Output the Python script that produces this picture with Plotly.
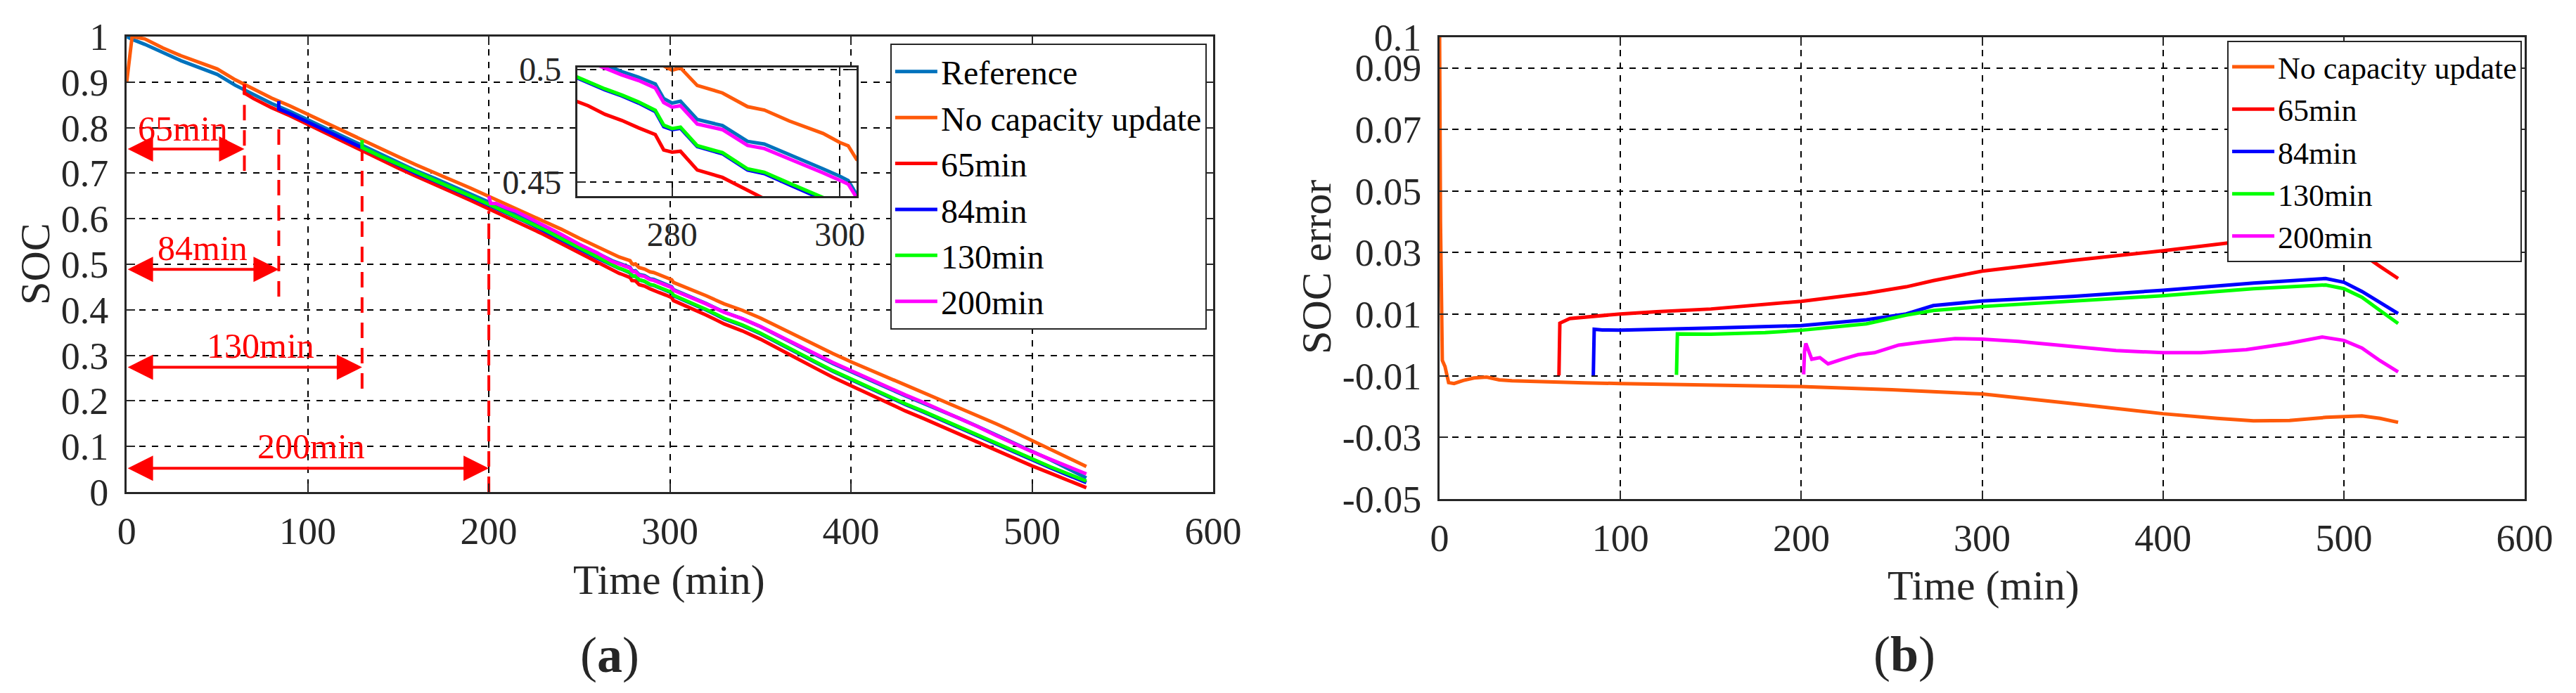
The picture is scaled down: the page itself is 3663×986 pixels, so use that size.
import plotly.graph_objects as go

FONT = "Liberation Serif"

# ---------------- panel (a): SOC vs time ----------------
T_SOC = [0, 3, 10, 20, 30, 40, 50, 60, 70, 80, 90, 100, 110, 120, 130, 140, 150, 160,
         170, 180, 190, 200, 210, 220, 230, 240, 250, 260,
         268, 270, 272, 274, 276, 278, 279, 280, 281, 283, 286, 289, 291, 294, 298, 300, 301, 302,
         310, 320, 330, 340, 350, 360, 370, 380, 390, 400, 410, 420, 430, 440, 450, 460, 470,
         480, 490, 500, 510, 520, 530]
SOC_REF = [1.0, 0.994, 0.983, 0.964, 0.947, 0.932, 0.917, 0.893, 0.872, 0.853, 0.836, 0.817,
           0.799, 0.779, 0.760, 0.741, 0.723, 0.705, 0.689, 0.671, 0.654, 0.636, 0.619, 0.602,
           0.583, 0.563, 0.543, 0.524,
           0.508, 0.505, 0.502, 0.499, 0.4965, 0.4935, 0.487, 0.485, 0.4858, 0.4777, 0.475,
           0.468, 0.4668, 0.4622, 0.4558, 0.4525, 0.4506, 0.4444,
           0.4315, 0.414, 0.395, 0.3805, 0.363, 0.342, 0.3226, 0.302, 0.282, 0.2637, 0.246,
           0.229, 0.211, 0.195, 0.178, 0.1615, 0.144, 0.126, 0.1086, 0.090, 0.071, 0.051, 0.031]
SOC_NO_UPDATE = [0.9, 1.0, 0.995, 0.975, 0.958, 0.944, 0.929, 0.905, 0.884, 0.865, 0.848, 0.829,
                 0.811, 0.792, 0.773, 0.754, 0.736, 0.718, 0.702, 0.684, 0.667, 0.649, 0.632,
                 0.615, 0.597, 0.577, 0.557, 0.538,
                 0.522, 0.519, 0.516, 0.5135, 0.511, 0.508, 0.5015, 0.4996, 0.5006, 0.4928,
                 0.4895, 0.4834, 0.4819, 0.477, 0.4715, 0.4675, 0.466, 0.460,
                 0.448, 0.431, 0.413, 0.399, 0.382, 0.362, 0.343, 0.323, 0.304, 0.286, 0.269,
                 0.252, 0.235, 0.219, 0.203, 0.186, 0.168, 0.150, 0.132, 0.113, 0.094, 0.075, 0.056]

T_65 = [65, 65, 70, 80, 90, 100, 110, 120, 130, 140, 150, 160, 170, 180, 190, 200, 210, 220,
        230, 240, 250, 260,
        268, 270, 272, 274, 276, 278, 279, 280, 281, 283, 286, 289, 291, 294, 298, 300, 301, 302,
        310, 320, 330, 340, 350, 360, 370, 380, 390, 400, 410, 420, 430, 440, 450, 460, 470,
        480, 490, 500, 510, 520, 530]
SOC_65 = [0.895, 0.876, 0.864, 0.844, 0.8264, 0.807, 0.7885, 0.768, 0.749, 0.7296, 0.711, 0.693,
          0.6765, 0.658, 0.640, 0.622, 0.604, 0.586, 0.566, 0.5455, 0.525, 0.505,
          0.4866, 0.4838, 0.480, 0.4773, 0.474, 0.471, 0.4642, 0.4632, 0.4636, 0.4553, 0.452,
          0.4462, 0.4425, 0.438, 0.432, 0.4285, 0.4266, 0.4203,
          0.4068, 0.3886, 0.369, 0.3537, 0.3355, 0.314, 0.294, 0.2726, 0.252, 0.233, 0.2147,
          0.197, 0.178, 0.1615, 0.144, 0.1266, 0.1085, 0.0906, 0.074, 0.0573, 0.0414, 0.0255, 0.0094]

T_84 = [84, 84, 90, 100, 110, 120, 130, 140, 150, 160, 170, 180, 190, 200, 210, 220, 230, 240,
        250, 260,
        268, 270, 272, 274, 276, 278, 279, 280, 281, 283, 286, 289, 291, 294, 298, 300, 301, 302,
        310, 320, 330, 340, 350, 360, 370, 380, 390, 400, 410, 420, 430, 440, 450, 460, 470,
        480, 490, 500, 510, 520, 530]
SOC_84 = [0.8585, 0.841, 0.831, 0.8122, 0.7941, 0.774, 0.7548, 0.7357, 0.7175, 0.6993, 0.6831,
          0.6648, 0.6475, 0.6292, 0.6118, 0.5943, 0.5747, 0.5542, 0.5335, 0.5135,
          0.4972, 0.494, 0.4908, 0.4882, 0.485, 0.4812, 0.4745, 0.4732, 0.4738, 0.4657, 0.4625,
          0.4553, 0.4537, 0.4487, 0.4425, 0.4392, 0.4373, 0.431,
          0.4176, 0.3997, 0.3803, 0.3654, 0.3475, 0.3261, 0.3063, 0.2853, 0.2649, 0.2462, 0.2281,
          0.2106, 0.1922, 0.1757, 0.1582, 0.1412, 0.1231, 0.1047, 0.0871, 0.0698, 0.0532,
          0.0368, 0.0207]

T_130 = [130, 130, 140, 150, 160, 170, 180, 190, 200, 210, 220, 230, 240, 250, 260,
         268, 270, 272, 274, 276, 278, 279, 280, 281, 283, 286, 289, 291, 294, 298, 300, 301, 302,
         310, 320, 330, 340, 350, 360, 370, 380, 390, 400, 410, 420, 430, 440, 450, 460, 470,
         480, 490, 500, 510, 520, 530]
SOC_130 = [0.7728, 0.7565, 0.7375, 0.7194, 0.7013, 0.6851, 0.6669, 0.6497, 0.6314, 0.614, 0.5965,
           0.577, 0.5564, 0.5355, 0.515,
           0.4976, 0.4944, 0.4913, 0.4886, 0.4855, 0.4818, 0.4752, 0.4737, 0.4743, 0.4661, 0.463,
           0.4558, 0.4543, 0.4494, 0.4432, 0.4401, 0.4383, 0.432,
           0.4189, 0.401, 0.3816, 0.3667, 0.3488, 0.3275, 0.3077, 0.2868, 0.2664, 0.2477, 0.2296,
           0.2121, 0.1937, 0.1772, 0.1597, 0.1428, 0.1249, 0.1066, 0.0891, 0.0717, 0.0555,
           0.0398, 0.024]

T_200 = [200, 201, 204, 210, 215, 222, 231, 240, 250, 260,
         268, 270, 272, 274, 276, 278, 279, 280, 281, 283, 286, 289, 291, 294, 298, 300, 301, 302,
         310, 320, 330, 340, 350, 360, 370, 380, 390, 400, 410, 420, 430, 440, 450, 460, 470,
         480, 490, 500, 510, 520, 530]
SOC_200 = [0.6495, 0.6338, 0.6336, 0.6231, 0.6166, 0.6026, 0.5841, 0.5655, 0.5438, 0.5248,
           0.5065, 0.5035, 0.5005, 0.4975, 0.495, 0.4917, 0.4852, 0.4832, 0.4838, 0.4757, 0.4732,
           0.4662, 0.4648, 0.4603, 0.454, 0.4507, 0.449, 0.443,
           0.430, 0.413, 0.3945, 0.3805, 0.3635, 0.343, 0.3242, 0.304, 0.2843, 0.2662, 0.2485,
           0.2315, 0.2132, 0.1968, 0.1792, 0.1618, 0.1434, 0.1242, 0.106, 0.0885, 0.072,
           0.0561, 0.0397]

# update instants marked on panel (a)
UPDATE_MIN = [65, 84, 130, 200]
UPDATE_TEXT = ["65min", "84min", "130min", "200min"]
MARK_TOP = [0.88, 0.80, 0.75, 0.617]
MARK_BOTTOM = [0.705, 0.429, 0.227, 0.0]
ARROW_SOC = [0.753, 0.489, 0.274, 0.052]

# ---------------- panel (b): SOC error vs time ----------------
T_ERR_NO = [0, 0.5, 1.5, 3, 5, 8, 13, 19, 26, 33, 40, 60, 80, 100, 150, 200, 250, 300, 350,
            400, 430, 450, 470, 490, 510, 520, 530]
ERR_NO = [0.1, 0.04, -0.005, -0.007, -0.0122, -0.0125, -0.0115, -0.0107, -0.0104, -0.0113,
          -0.0116, -0.012, -0.0123, -0.0125, -0.0129, -0.0135, -0.0145, -0.0159, -0.019,
          -0.0223, -0.0238, -0.0246, -0.0245, -0.0235, -0.023, -0.0238, -0.0251]

T_ERR_65 = [66, 66.5, 72, 80, 90, 100, 120, 150, 200, 236, 258, 273, 300, 350, 400, 450, 470,
            480, 490, 500, 510, 520, 530]
ERR_65 = [-0.0099, 0.0071, 0.0086, 0.0091, 0.0096, 0.0101, 0.0108, 0.0117, 0.0142, 0.0168,
          0.0189, 0.0209, 0.024, 0.0275, 0.0306, 0.0342, 0.0355, 0.0354, 0.0347, 0.0330,
          0.0296, 0.0255, 0.0216]

T_ERR_84 = [85, 85.5, 90, 100, 150, 200, 236, 258, 273, 300, 350, 400, 450, 480, 490, 500,
            510, 520, 530]
ERR_84 = [-0.0099, 0.0051, 0.0049, 0.0048, 0.0055, 0.0063, 0.0082, 0.0101, 0.0128, 0.0143,
          0.0158, 0.0178, 0.0201, 0.0214, 0.0216, 0.0204, 0.0174, 0.0138, 0.0102]

T_ERR_130 = [131, 131.5, 150, 180, 200, 236, 258, 273, 300, 350, 400, 450, 480, 490, 500, 510,
             520, 530]
ERR_130 = [-0.0097, 0.0036, 0.0035, 0.004, 0.0048, 0.0069, 0.0097, 0.0112, 0.0125, 0.0142,
           0.016, 0.0183, 0.0194, 0.0195, 0.0183, 0.0155, 0.0112, 0.007]

T_ERR_200 = [201.3, 201.8, 202.5, 205.8, 210.3, 214.8, 222.6, 231.5, 240.5, 253.9, 267.3, 285,
             300, 320, 350, 374, 400, 421, 446, 469, 488, 500, 510, 520, 530]
ERR_200 = [-0.0095, -0.002, 0.0005, -0.0046, -0.0041, -0.0061, -0.0046, -0.0031, -0.0025, 0.0,
           0.001, 0.0021, 0.0019, 0.0012, -0.0005, -0.0018, -0.0025, -0.0025, -0.0015, 0.0005,
           0.0026, 0.0015, -0.001, -0.0051, -0.0087]

ERR_TICKS = [-0.05, -0.03, -0.01, 0.01, 0.03, 0.05, 0.07, 0.09, 0.1]

# colours
C_REF = "#0072BD"
C_NO = "#FF5A0A"
C_65 = "#FF0000"
C_84 = "#0000FF"
C_130 = "#00FF00"
C_200 = "#FF00FF"

soc_series = [
    ("Reference", T_SOC, SOC_REF, C_REF),
    ("No capacity update", T_SOC, SOC_NO_UPDATE, C_NO),
    ("65min", T_65, SOC_65, C_65),
    ("84min", T_84, SOC_84, C_84),
    ("130min", T_130, SOC_130, C_130),
    ("200min", T_200, SOC_200, C_200),
]
err_series = [
    ("No capacity update", T_ERR_NO, ERR_NO, C_NO),
    ("65min", T_ERR_65, ERR_65, C_65),
    ("84min", T_ERR_84, ERR_84, C_84),
    ("130min", T_ERR_130, ERR_130, C_130),
    ("200min", T_ERR_200, ERR_200, C_200),
]

fig = go.Figure()

# panel (a) curves + the zoomed inset
for name, t, v, c in soc_series:
    fig.add_trace(go.Scatter(x=t, y=v, name=name, mode="lines",
                             line=dict(color=c, width=5), xaxis="x", yaxis="y",
                             legend="legend"))
for name, t, v, c in soc_series:
    fig.add_trace(go.Scatter(x=t, y=v, mode="lines", showlegend=False,
                             line=dict(color=c, width=5), xaxis="x3", yaxis="y3"))

# red dashed markers at the update times
for i, tu in enumerate(UPDATE_MIN):
    fig.add_trace(go.Scatter(x=[tu, tu], y=[MARK_BOTTOM[i], MARK_TOP[i]], mode="lines",
                             showlegend=False, line=dict(color="red", width=4, dash="22px,14px"),
                             xaxis="x", yaxis="y"))

# panel (b) curves
for name, t, v, c in err_series:
    fig.add_trace(go.Scatter(x=t, y=v, name=name, mode="lines",
                             line=dict(color=c, width=5), xaxis="x2", yaxis="y2",
                             legend="legend2"))

axis_style = dict(
    showline=True, linecolor="#262626", linewidth=3, mirror="ticks",
    ticks="inside", ticklen=12, tickwidth=2, tickcolor="#262626",
    showgrid=True, gridcolor="black", gridwidth=2, griddash="dash",
    zeroline=False, automargin=False,
    tickfont=dict(family=FONT, size=54, color="#262626"),
)
inset_style = {**axis_style, "tickfont": dict(family=FONT, size=48, color="#262626")}

# page body adds an 8px margin, so the figure is 16px smaller than the window
fig.update_layout(
    width=3647, height=970,
    margin=dict(l=0, r=0, t=0, b=0, autoexpand=False),
    paper_bgcolor="white", plot_bgcolor="white",
    font=dict(family=FONT, color="#262626"),
    xaxis=dict(domain=[0.0472, 0.4708], range=[0, 600], dtick=100, anchor="y",
               ticklabelstandoff=6, **axis_style),
    yaxis=dict(domain=[0.2866, 0.9546], range=[0, 1], dtick=0.1, anchor="x",
               ticklabelstandoff=12, **axis_style),
    xaxis2=dict(domain=[0.5591, 0.9822], range=[0, 600], dtick=100, anchor="y2",
                ticklabelstandoff=6, **axis_style),
    yaxis2=dict(domain=[0.2763, 0.9539], range=[-0.05, 0.1], tickvals=ERR_TICKS,
                ticktext=[f"{v:g}" for v in ERR_TICKS], anchor="x2",
                ticklabelstandoff=12, **axis_style),
    xaxis3=dict(domain=[0.2229, 0.3318], range=[268.7, 302], tickvals=[280, 300], anchor="y3",
                ticklabelstandoff=10, **inset_style),
    yaxis3=dict(domain=[0.7206, 0.9093], range=[0.4437, 0.5008], tickvals=[0.45, 0.5],
                anchor="x3", ticklabelstandoff=10, **inset_style),
    legend=dict(x=0.4683, xanchor="right", y=0.9443, yanchor="top", bgcolor="white",
                bordercolor="#262626", borderwidth=2, itemwidth=60, tracegroupgap=0,
                font=dict(family=FONT, size=48, color="black")),
    legend2=dict(x=0.9811, xanchor="right", y=0.9485, yanchor="top", bgcolor="white",
                 bordercolor="#262626", borderwidth=2, itemwidth=60, tracegroupgap=0,
                 font=dict(family=FONT, size=44, color="black")),
    showlegend=True,
)

# white backing for the inset so the main grid does not show through
fig.add_shape(type="rect", xref="x3 domain", yref="y3 domain", x0=0, x1=1, y0=0, y1=1,
              fillcolor="white", line=dict(width=0), layer="below")

# double arrows and labels for update times
label_pos = [(31, 0.798), (42, 0.535), (74, 0.321), (102, 0.100)]
for i, tu in enumerate(UPDATE_MIN):
    fig.add_annotation(x=tu, y=ARROW_SOC[i], ax=0, ay=ARROW_SOC[i], xref="x", yref="y",
                       axref="x", ayref="y", text="", showarrow=True, arrowside="end+start",
                       arrowhead=2, arrowsize=1.8, arrowwidth=4, arrowcolor="red")
    fig.add_annotation(x=label_pos[i][0], y=label_pos[i][1], xref="x", yref="y",
                       text=UPDATE_TEXT[i], showarrow=False,
                       xanchor="center", yanchor="middle",
                       font=dict(family=FONT, size=50, color="red"))

# axis titles and panel captions
titles = [
    ("SOC", 0.0115, 0.6217, -90, 60),
    ("Time (min)", 0.2588, 0.1577, 0, 60),
    ("(<b>a</b>)", 0.2355, 0.0474, 0, 72),
    ("SOC error", 0.5111, 0.6165, -90, 60),
    ("Time (min)", 0.7713, 0.1495, 0, 60),
    ("(<b>b</b>)", 0.7403, 0.0485, 0, 72),
]
for txt, x, y, ang, size in titles:
    fig.add_annotation(x=x, y=y, xref="paper", yref="paper", text=txt, showarrow=False,
                       xanchor="center", yanchor="middle", textangle=ang,
                       font=dict(family=FONT, size=size, color="#262626"))

fig.write_html("out.html")
